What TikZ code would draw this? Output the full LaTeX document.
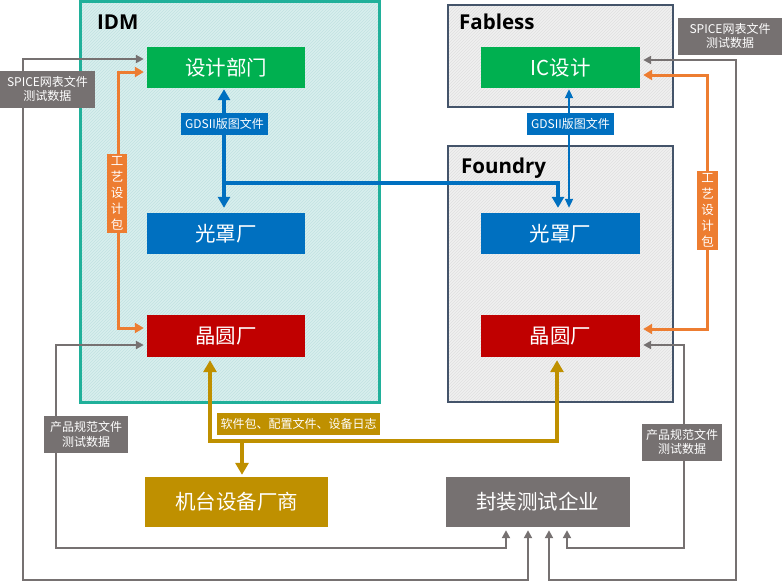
\documentclass[tikz,border=0pt]{standalone}
\usepackage{fontspec}
\setmainfont{Noto Sans CJK SC}
\newfontfamily\hdfont{Open Sans}
\usetikzlibrary{arrows.meta,patterns,positioning}
\definecolor{cblue}{HTML}{0070C0}
\definecolor{cgreen}{HTML}{00B050}
\definecolor{cred}{HTML}{C00000}
\definecolor{cgold}{HTML}{BF9000}
\definecolor{cgray}{HTML}{767171}
\definecolor{corange}{HTML}{ED7D31}
\definecolor{cteal}{HTML}{20B09A}
\definecolor{cslate}{HTML}{44546A}
\definecolor{idmfill}{HTML}{D8EFEE}
\definecolor{idmhatch}{HTML}{C2E2E1}
\definecolor{fabfill}{HTML}{F0F0F0}
\definecolor{fabhatch}{HTML}{E0E0E0}
\begin{document}
\begin{tikzpicture}[x=1pt,y=-1pt,
  box/.style={draw=none,inner sep=0pt,text=white,font=\fontsize{20.5}{24}\selectfont},
  lbl/.style={inner sep=0pt,text=white,font=\fontsize{12}{14.5}\selectfont,align=center},
  head/.style={anchor=base west,inner sep=0pt,font=\hdfont\bfseries\fontsize{20.5}{24}\selectfont},
  bluearr/.style={draw=cblue,line width=3.5pt},
  orangearr/.style={draw=corange,line width=3pt,{Triangle[width=10pt,length=9pt]}-{Triangle[width=10pt,length=9pt]},shorten >=3pt,shorten <=3pt},
  grayarr/.style={draw=cgray,line width=2pt,{Triangle[width=8pt,length=8pt]}-{Triangle[width=8pt,length=8pt]},shorten >=3pt,shorten <=3pt},
  goldarr/.style={draw=cgold,line width=4pt}
]
\useasboundingbox (0,0) rectangle (782,582);
% containers
\fill[idmfill] (80,1) rectangle (379,402);
\fill[pattern=north east lines,pattern color=idmhatch] (80,1) rectangle (379,402);
\draw[cteal,line width=3pt] (80,1) rectangle (379,402);
\foreach \r in {{(448,5) rectangle (673,107)},{(448,146) rectangle (673,402)}}{
  \fill[fabfill] \r;
  \fill[pattern=north east lines,pattern color=fabhatch] \r;
  \draw[cslate,line width=1.5pt] \r;
}
\node[head] (hidm) at (97,29) {IDM};
\node[head] (hfab) at (459,29) {Fabless};
\node[head] (hfou) at (461,173) {Foundry};
% boxes
\node[box,fill=cgreen,minimum width=158pt,minimum height=41pt] (sjbm) at (226,67.5) {设计部门};
\node[box,fill=cblue,minimum width=158pt,minimum height=41pt] (gzc1) at (226,233.5) {光罩厂};
\node[box,fill=cred,minimum width=158pt,minimum height=42pt] (jyc1) at (226,336) {晶圆厂};
\node[box,fill=cgreen,minimum width=159pt,minimum height=41pt] (icsj) at (560.5,67.5) {IC设计};
\node[box,fill=cblue,minimum width=159pt,minimum height=41pt] (gzc2) at (560.5,233.5) {光罩厂};
\node[box,fill=cred,minimum width=159pt,minimum height=42pt] (jyc2) at (560.5,336) {晶圆厂};
\node[box,fill=cgold,minimum width=183pt,minimum height=50pt] (jt) at (236.5,502) {机台设备厂商};
\node[box,fill=cgray,minimum width=184pt,minimum height=50pt] (fz) at (537.5,502) {封装测试企业};
% blue connectors
\draw[bluearr,{Triangle[width=12pt,length=11pt]}-{Triangle[width=12pt,length=11pt]},shorten >=5pt,shorten <=1pt] ([xshift=-2pt]sjbm.south) -- ([xshift=-2pt]gzc1.north);
\coordinate (bj) at ([xshift=-2pt]sjbm.south |- 0,183);
\coordinate (bf) at ([xshift=-2.5pt]gzc2.north);
\draw[bluearr,-{Triangle[width=12pt,length=11pt]},shorten >=5pt] (bj) -| (bf);
\draw[draw=cblue,line width=2pt,{Triangle[width=8pt,length=9pt]}-{Triangle[width=8pt,length=9pt]},shorten >=5pt,shorten <=1pt] ([xshift=8.5pt]icsj.south) -- ([xshift=8.5pt]gzc2.north);
\node[lbl,fill=cblue,minimum width=87pt,minimum height=22pt] (g1) at (224.5,124) {GDSII版图文件};
\node[lbl,fill=cblue,minimum width=87pt,minimum height=22pt] (g2) at (570.5,124) {GDSII版图文件};
% orange connectors
\coordinate (o1) at ([yshift=-4.5pt]sjbm.west);
\coordinate (o2) at ([yshift=8pt]jyc1.west);
\coordinate (ox) at (118,0);
\draw[orangearr] (o1) -| (ox |- o2) -- (o2);
\coordinate (o3) at ([yshift=-7.5pt]icsj.east);
\coordinate (o4) at ([yshift=7pt]jyc2.east);
\coordinate (oy) at (707,0);
\draw[orangearr] (o3) -| (oy |- o4) -- (o4);
\node[lbl,fill=corange,minimum width=20pt,minimum height=79pt,font=\fontsize{12.5}{16}\selectfont] (ol) at (117,193.5) {工\\艺\\设\\计\\包};
\node[lbl,fill=corange,minimum width=21pt,minimum height=79pt,font=\fontsize{12.5}{16}\selectfont] (or) at (707.5,210.5) {工\\艺\\设\\计\\包};
% gray connectors
\draw[grayarr] ([yshift=8.5pt]sjbm.west) -| (23,580) -| ([xshift=-9.5pt]fz.south);
\draw[grayarr] ([yshift=-9pt]jyc1.west) -| (56,548) -| ([xshift=-31.5pt]fz.south);
\draw[grayarr] ([yshift=7.5pt]icsj.east) -| (736,580) -| ([xshift=11.5pt]fz.south);
\draw[grayarr] ([yshift=-9pt]jyc2.east) -| (684,548) -| ([xshift=29.5pt]fz.south);
\node[lbl,fill=cgray,minimum width=95pt,minimum height=37pt] (sl) at (47.5,89) {SPICE网表文件\\测试数据};
\node[lbl,fill=cgray,minimum width=104pt,minimum height=37pt] (sr) at (730,36) {SPICE网表文件\\测试数据};
\node[lbl,fill=cgray,minimum width=84pt,minimum height=37pt] (pl) at (86,434.5) {产品规范文件\\测试数据};
\node[lbl,fill=cgray,minimum width=80pt,minimum height=37pt] (pr) at (682,442) {产品规范文件\\测试数据};
% gold connectors
\coordinate (gy) at (0,441);
\coordinate (gL) at ([xshift=-16pt]jyc1.south);
\coordinate (gR) at ([xshift=-3.5pt]jyc2.south);
\draw[goldarr,{Triangle[width=13pt,length=12pt]}-{Triangle[width=13pt,length=12pt]},shorten >=3pt,shorten <=3pt,line join=miter] (gL) |- (gR |- gy) -- (gR);
\coordinate (gj) at ([xshift=5.5pt]jt.north);
\draw[goldarr,-{Triangle[width=13pt,length=12pt]},shorten >=2pt] (gj |- gy) -- (gj);
\node[lbl,fill=cgold,minimum width=163pt,minimum height=22pt] (gl) at (298.5,424) {软件包、配置文件、设备日志};
\end{tikzpicture}
\end{document}
